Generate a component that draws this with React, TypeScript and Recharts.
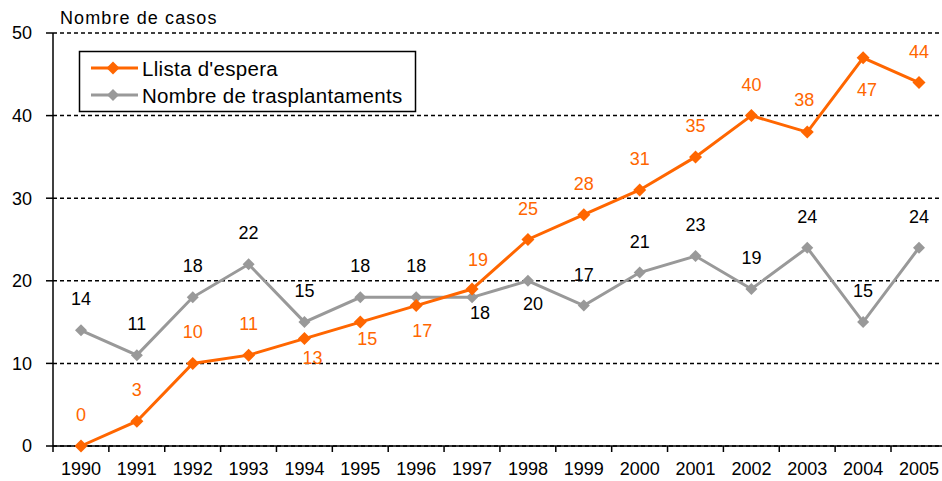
import React from "react";
import { LineChart, Line, XAxis, YAxis, CartesianGrid } from "recharts";

const years = ["1990","1991","1992","1993","1994","1995","1996","1997","1998","1999","2000","2001","2002","2003","2004","2005"];
const waitingList = [0, 3, 10, 11, 13, 15, 17, 19, 25, 28, 31, 35, 40, 38, 47, 44];
const transplants = [14, 11, 18, 22, 15, 18, 18, 18, 20, 17, 21, 23, 19, 24, 15, 24];
const yTicks = [0, 10, 20, 30, 40, 50];
const seriesNames = ["Llista d'espera", "Nombre de trasplantaments"];
const yTitle = "Nombre de casos";

const data = years.map((y, i) => ({ year: y, wait: waitingList[i], trans: transplants[i] }));

const ORANGE = "#FF6600";
const GRAY = "#999999";
const FONT = "'Liberation Sans', Arial, sans-serif";
const HALF = 28;

const waitShift: Record<number, [number, number]> = {
  4: [8, 19], 5: [7, 17], 6: [6, 25], 7: [6, -29], 13: [-3, -32], 14: [4, 32],
};
const transShift: Record<number, [number, number]> = {
  7: [8, 16], 8: [5, 23],
};

const makeLabel = (color: string, shifts: Record<number, [number, number]>) => (props: any) => {
  const { x, y, value, index } = props;
  const s = shifts[index] ?? [0, -31];
  return (
    <text key={`l-${index}`} x={x + s[0]} y={y + s[1]} fill={color} fontSize={18} fontFamily={FONT}
      textAnchor="middle" dominantBaseline="central">{value}</text>
  );
};

const makeDot = (color: string, r: number) => (props: any) => {
  const { cx, cy, index } = props;
  return (
    <polygon key={`d-${index}`} points={`${cx},${cy - r} ${cx + r},${cy} ${cx},${cy + r} ${cx - r},${cy}`} fill={color} stroke="none" />
  );
};

const XTick = (props: any) => {
  const { x, y, payload, index } = props;
  const last = index === years.length - 1;
  return (
    <g>
      <line x1={x - HALF} x2={x - HALF} y1={y} y2={y + 6} stroke="#000" strokeWidth={1.5} />
      {last && <line x1={x + HALF} x2={x + HALF} y1={y} y2={y + 6} stroke="#000" strokeWidth={1.5} />}
      <text x={x} y={y + 23} textAnchor="middle" dominantBaseline="central" fontSize={18} fontFamily={FONT} fill="#000">{payload.value}</text>
    </g>
  );
};

export default function App() {
  return (
    <div style={{ position: "absolute", left: 0, top: 0, width: 942, height: 481, background: "#fff", overflow: "hidden" }}>
      <LineChart width={942} height={481} data={data} margin={{ top: 33, right: -5, left: 0, bottom: 0 }}>
        <CartesianGrid vertical={false} stroke="#000" strokeDasharray="4 3" strokeWidth={1.5} />
        <XAxis dataKey="year" padding={{ left: HALF, right: HALF }} tickLine={false} tickSize={0} tickMargin={0}
          axisLine={{ stroke: "#000", strokeWidth: 1.5 }} tick={<XTick />} interval={0} height={35} />
        <YAxis domain={[0, 50]} ticks={yTicks} width={53} tickSize={7} tickMargin={14}
          axisLine={{ stroke: "#000", strokeWidth: 1.5 }} tickLine={{ stroke: "#000", strokeWidth: 1.5 }}
          tick={{ fontSize: 18, fill: "#000", fontFamily: FONT }} />
        <Line dataKey="trans" stroke={GRAY} strokeWidth={3} isAnimationActive={false}
          dot={makeDot(GRAY, 6)} activeDot={false} label={makeLabel("#000", transShift)} />
        <Line dataKey="wait" stroke={ORANGE} strokeWidth={3} isAnimationActive={false}
          dot={makeDot(ORANGE, 6.5)} activeDot={false} label={makeLabel(ORANGE, waitShift)} />
      </LineChart>
      <svg width={942} height={481} style={{ position: "absolute", left: 0, top: 0, pointerEvents: "none" }}>
        <text x={60} y={18} dominantBaseline="central" fontSize={18} fontFamily={FONT} letterSpacing={1.1} fill="#000">{yTitle}</text>
        <rect x={79.5} y={51.5} width={336} height={60} fill="#fff" stroke="#000" strokeWidth={1.5} />
        <line x1={91} x2={138} y1={68} y2={68} stroke={ORANGE} strokeWidth={3} />
        <polygon points="113,61.5 119.5,68 113,74.5 106.5,68" fill={ORANGE} />
        <text x={142} y={68} dominantBaseline="central" fontSize={20.5} letterSpacing={0.3} fontFamily={FONT} fill="#000">{seriesNames[0]}</text>
        <line x1={91} x2={138} y1={95} y2={95} stroke={GRAY} strokeWidth={3} />
        <polygon points="113,89 119,95 113,101 107,95" fill={GRAY} />
        <text x={142} y={95} dominantBaseline="central" fontSize={20.5} letterSpacing={0.3} fontFamily={FONT} fill="#000">{seriesNames[1]}</text>
      </svg>
    </div>
  );
}
